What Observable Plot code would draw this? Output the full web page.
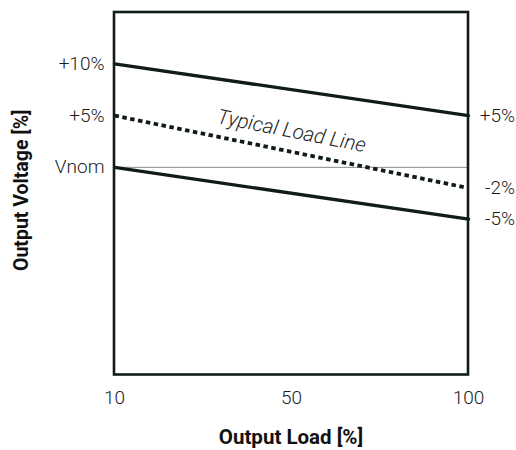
<!DOCTYPE html>
<html>
<head>
<meta charset="utf-8">
<script src="https://cdn.jsdelivr.net/npm/d3@7"></script>
<script src="https://cdn.jsdelivr.net/npm/@observablehq/plot@0.6"></script>
<style>
  html, body { margin: 0; padding: 0; background: white; }
</style>
</head>
<body>
<div id="chart"></div>
<script>
// Data
const loads = [10, 100];            // output load endpoints [%]
const upperLimit = [10, 5];          // upper limit line [%]
const typicalLine = [5, -2];         // typical load line [%]
const lowerLimit = [0, -5];          // lower limit line [%]
const nominal = [0];                 // Vnom reference
const xTicks = [10, 50, 100];
const leftTicks = [10, 5, 0];
const rightTicks = [5, -2, -5];
const lineLabel = ["Typical Load Line"];
const xLabel = ["Output Load [%]"];
const yLabel = ["Output Voltage [%]"];

const rows = ys => loads.map((x, i) => ({load: x, v: ys[i]}));
const ink = "#111b1b";
const font = "Roboto, 'Liberation Sans', sans-serif";
const fmtLeft = d => d === 0 ? "Vnom" : (d > 0 ? "+" + d + "%" : d + "%");
const fmtRight = d => (d > 0 ? "+" + d : "" + d) + "%";

const chart = Plot.plot({
  width: 516,
  height: 450,
  marginLeft: 113.5,
  marginRight: 48.5,
  marginTop: 11.5,
  marginBottom: 76,
  style: {fontFamily: font, background: "white", color: "#1c1c1c"},
  x: {type: "point", domain: xTicks, padding: 0},
  y: {domain: [-20, 15]},
  marks: [
    Plot.ruleY(nominal, {stroke: "#8c8c8c", strokeWidth: 1}),
    Plot.line(rows(upperLimit), {x: "load", y: "v", stroke: ink, strokeWidth: 3.3}),
    Plot.line(rows(lowerLimit), {x: "load", y: "v", stroke: ink, strokeWidth: 3.3}),
    Plot.line(rows(typicalLine), {x: "load", y: "v", stroke: ink, strokeWidth: 3.8, strokeDasharray: "4.5,3.5", strokeLinecap: "butt"}),
    Plot.text(lineLabel, {x: () => 50, y: () => 3.5, text: d => d, rotate: 11.2, fontSize: 20.5, fontStyle: "italic", fontWeight: 300, fill: "#1c1c1c"}),
    Plot.frame({stroke: ink, strokeWidth: 2.6}),
    Plot.axisX({ticks: xTicks, tickSize: 0, tickPadding: 16, fontSize: 19, fontWeight: 300, label: null}),
    Plot.axisY({anchor: "left", ticks: leftTicks, tickFormat: fmtLeft, tickSize: 0, tickPadding: 9.5, fontSize: 19, fontWeight: 300, label: null}),
    Plot.axisY({anchor: "right", ticks: rightTicks, tickFormat: fmtRight, tickSize: 0, tickPadding: 0, textAnchor: "end", dx: 47, fontSize: 19, fontWeight: 300, label: null}),
    Plot.text(xLabel, {frameAnchor: "bottom", textAnchor: "middle", lineAnchor: "middle", text: d => d, dy: 63, fontSize: 20.5, fontWeight: "bold", fill: "#111"}),
    Plot.text(yLabel, {frameAnchor: "left", textAnchor: "middle", lineAnchor: "middle", text: d => d, dx: -92, dy: -3, rotate: -90, fontSize: 19.5, fontWeight: "bold", fill: "#111"})
  ]
});
document.getElementById("chart").appendChild(chart);
</script>
</body>
</html>
